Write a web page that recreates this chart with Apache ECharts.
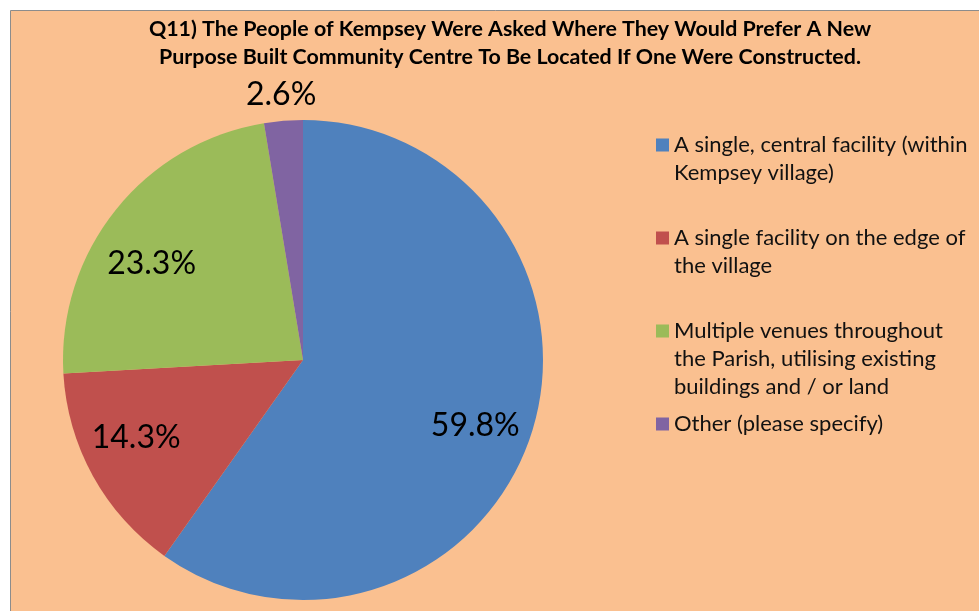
<!DOCTYPE html>
<html>
<head>
    <meta charset="UTF-8">
    <title>Q11 Community Centre Location</title>
    <script src="https://cdn.jsdelivr.net/npm/echarts@6/dist/echarts.min.js"></script>
    <style>
        body { margin: 0; background: #ffffff; }
        #chart { width: 979px; height: 611px; }
    </style>
</head>
<body>
<div id="chart"></div>
<script>
    // 数据
    var titleLines = [
        'Q11) The People of Kempsey Were Asked Where They Would Prefer A New',
        'Purpose Built Community Centre To Be Located If One Were Constructed.'
    ];
    var categories = [
        'A single, central facility (within Kempsey village)',
        'A single facility on the edge of the village',
        'Multiple venues throughout the Parish, utilising existing buildings and / or land',
        'Other (please specify)'
    ];
    // legend text as it wraps in the picture
    var legendLines = [
        ['A single, central facility (within', 'Kempsey village)'],
        ['A single facility on the edge of', 'the village'],
        ['Multiple venues throughout', 'the Parish, utilising existing', 'buildings and / or land'],
        ['Other (please specify)']
    ];
    var shares = [59.8, 14.3, 23.3, 2.6];
    var colors = ['#4F81BD', '#C0504D', '#9BBB59', '#8064A2'];

    var font = 'Lato';
    var center = [303, 360];
    // small shifts so the in-slice labels sit where Excel put them
    var labelNudge = [[-4, 10], [-5, -12], [-7, 19], [0, 2]];

    var myChart = echarts.init(document.getElementById('chart'));

    // legend text is always centred on the icon, so pad each item to 5 lines
    // with the first real line in the middle
    function legendText(name) {
        var lines = legendLines[categories.indexOf(name)];
        var out = ['', ''].concat(lines);
        while (out.length < 5) out.push('');
        return out.join('\n');
    }

    function nudge(params) {
        var n = labelNudge[params.dataIndex];
        return { dx: n[0], dy: n[1] };
    }

    var pieData = categories.map(function (c, i) {
        return { name: c, value: shares[i], itemStyle: { color: colors[i] } };
    });
    // labels inside the big slices
    var innerLabels = categories.map(function (c, i) {
        return { name: c, value: shares[i], label: { show: i < 3 } };
    });
    // label for the small slice sits just outside the pie
    var outerLabels = categories.map(function (c, i) {
        return { name: c, value: shares[i], label: { show: i === 3 } };
    });

    var labelStyle = {
        position: 'inside',
        formatter: '{c}%',
        fontFamily: font,
        fontSize: 32,
        color: '#000000'
    };

    var option = {
        animation: false,
        graphic: [{
            type: 'rect',
            z: -10,
            shape: { x: 10.5, y: 10.5, width: 1000, height: 700 },
            style: { fill: '#FAC090', stroke: '#8C8C8C', lineWidth: 1 }
        }],
        title: {
            text: titleLines.join('\n'),
            left: 510,
            top: 15,
            textAlign: 'center',
            padding: 0,
            textStyle: {
                fontFamily: font,
                fontSize: 21.4,
                fontWeight: 'bold',
                lineHeight: 28,
                color: '#000000'
            }
        },
        legend: {
            orient: 'vertical',
            left: 656,
            top: 75,
            padding: 0,
            itemGap: -47,
            itemWidth: 13,
            itemHeight: 13,
            icon: 'rect',
            selectedMode: false,
            data: categories,
            formatter: legendText,
            textStyle: {
                fontFamily: font,
                fontSize: 22,
                lineHeight: 28,
                color: '#111111'
            }
        },
        series: [
            {
                type: 'pie',
                center: center,
                radius: 240,
                startAngle: 90,
                clockwise: true,
                silent: true,
                label: { show: false },
                labelLine: { show: false },
                itemStyle: { borderWidth: 0 },
                data: pieData
            },
            {
                type: 'pie',
                center: center,
                radius: [124, 240],
                startAngle: 90,
                silent: true,
                avoidLabelOverlap: false,
                itemStyle: { color: 'transparent' },
                label: labelStyle,
                labelLine: { show: false },
                labelLayout: nudge,
                data: innerLabels
            },
            {
                type: 'pie',
                center: center,
                radius: [240, 290],
                startAngle: 90,
                silent: true,
                avoidLabelOverlap: false,
                itemStyle: { color: 'transparent' },
                label: labelStyle,
                labelLine: { show: false },
                labelLayout: nudge,
                data: outerLabels
            }
        ]
    };

    myChart.setOption(option);
</script>
</body>
</html>
